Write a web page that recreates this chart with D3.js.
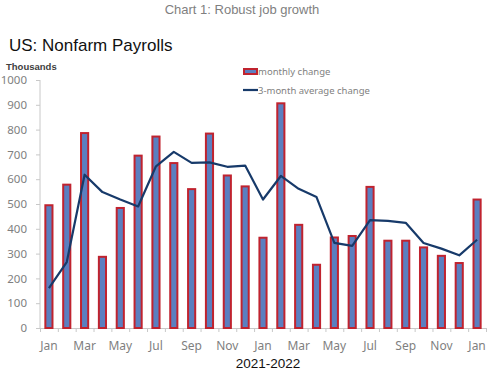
<!DOCTYPE html>
<html>
<head>
<meta charset="utf-8">
<script src="https://cdn.jsdelivr.net/npm/d3@7"></script>
<style>
  body { margin: 0; background: #fff; }
  svg { display: block; }
  .axis path, .axis line { stroke: #c8c8c8; }
  .tick text { fill: #7f7f7f; font-family: "Noto Sans", sans-serif; font-size: 12px; }
</style>
</head>
<body>
<div class="layout"></div>
<script>
// months Jan 2021 .. Jan 2023
var months = ["Jan","Feb","Mar","Apr","May","Jun","Jul","Aug","Sep","Oct","Nov","Dec",
              "Jan","Feb","Mar","Apr","May","Jun","Jul","Aug","Sep","Oct","Nov","Dec","Jan"];
var monthly = [495, 578, 786, 287, 484, 695, 772, 665, 560, 784, 615, 571,
               364, 906, 416, 255, 365, 371, 569, 352, 352, 325, 291, 262, 518];
var avg3 = [161, 266, 618, 548, 518, 490, 652, 710, 666, 668, 650, 655,
            518, 613, 561, 528, 343, 331, 435, 432, 424, 343, 320, 293, 356];
var yTicks = [0, 100, 200, 300, 400, 500, 600, 700, 800, 900, 1000];

var margin = {top: 80, right: 486, bottom: 328, left: 40},
    width = 501, height = 371;

var svg = d3.select(".layout").append("svg")
    .attr("width", width)
    .attr("height", height);

var idx = d3.range(months.length);

var x = d3.scaleBand()
    .domain(idx)
    .range([margin.left, margin.right]);

var xEdge = d3.scaleLinear()
    .domain([0, months.length])
    .range([margin.left, margin.right]);

var y = d3.scaleLinear()
    .domain([0, 1000])
    .range([margin.bottom, margin.top]);

// titles
svg.append("text")
    .attr("x", 242).attr("y", 14)
    .attr("text-anchor", "middle")
    .style("font-family", "'Liberation Sans', Arial, sans-serif")
    .style("font-size", "13px")
    .style("fill", "#7f7f7f")
    .text("Chart 1: Robust job growth");

svg.append("text")
    .attr("x", 9).attr("y", 51)
    .style("font-family", "'Liberation Sans', Arial, sans-serif")
    .style("font-size", "17px")
    .style("fill", "#111")
    .text("US: Nonfarm Payrolls");

svg.append("text")
    .attr("x", 6).attr("y", 70)
    .style("font-family", "'Liberation Sans', Arial, sans-serif")
    .style("font-size", "9.5px")
    .style("font-weight", "bold")
    .style("fill", "#404040")
    .text("Thousands");

// y axis
svg.append("g")
    .attr("class", "axis")
    .attr("transform", "translate(" + margin.left + ",0)")
    .call(d3.axisLeft(y).tickValues(yTicks).tickFormat(d3.format("d")).tickSize(4).tickPadding(9))
    .call(function(g) { g.select(".domain").attr("d", "M0," + margin.top + "V" + margin.bottom); })
    .call(function(g) { g.selectAll(".tick text").style("font-size", "11.5px"); });

// x axis: edge ticks
svg.append("g")
    .attr("class", "axis")
    .attr("transform", "translate(0," + margin.bottom + ")")
    .call(d3.axisBottom(xEdge).tickValues(d3.range(months.length + 1)).tickFormat("").tickSize(4).tickSizeOuter(0));

// x axis: labels every other month
svg.append("g")
    .attr("class", "axis")
    .attr("transform", "translate(0," + margin.bottom + ")")
    .call(d3.axisBottom(x)
        .tickValues(idx.filter(function(i) { return i % 2 === 0; }))
        .tickFormat(function(i) { return months[i]; })
        .tickSize(0).tickPadding(13))
    .call(function(g) { g.select(".domain").remove(); });

// bars
var bw = x.bandwidth() * 0.4;
svg.append("g")
    .selectAll("rect")
    .data(monthly)
    .enter().append("rect")
    .attr("x", function(d, i) { return x(i) + (x.bandwidth() - bw) / 2; })
    .attr("y", function(d) { return y(d); })
    .attr("width", bw)
    .attr("height", function(d) { return y(0) - y(d); })
    .attr("fill", "#5b7fc0")
    .attr("stroke", "#c0232f")
    .attr("stroke-width", 2);

// 3-month average line
var line = d3.line()
    .x(function(d, i) { return x(i) + x.bandwidth() / 2; })
    .y(function(d) { return y(d); });

svg.append("path")
    .datum(avg3)
    .attr("fill", "none")
    .attr("stroke", "#173a6a")
    .attr("stroke-width", 2.2)
    .attr("stroke-linejoin", "round")
    .attr("d", line);

// legend
var legend = svg.append("g").attr("transform", "translate(243,0)");
legend.append("rect")
    .attr("x", 1).attr("y", 69)
    .attr("width", 13).attr("height", 5)
    .attr("fill", "#5b7fc0")
    .attr("stroke", "#c0232f")
    .attr("stroke-width", 2);
legend.append("line")
    .attr("x1", 0).attr("x2", 15)
    .attr("y1", 90).attr("y2", 90)
    .attr("stroke", "#173a6a")
    .attr("stroke-width", 2.2);
legend.selectAll("text")
    .data(["monthly change", "3-month average change"])
    .enter().append("text")
    .attr("x", 15)
    .attr("y", function(d, i) { return 75 + i * 19; })
    .style("font-family", "'Noto Sans', sans-serif")
    .style("font-size", "9.5px")
    .style("fill", "#7f7f7f")
    .text(function(d) { return d; });

svg.append("text")
    .attr("x", 268).attr("y", 368)
    .attr("text-anchor", "middle")
    .style("font-family", "'Liberation Sans', Arial, sans-serif")
    .style("font-size", "13.5px")
    .style("fill", "#111")
    .text("2021-2022");
</script>
</body>
</html>
